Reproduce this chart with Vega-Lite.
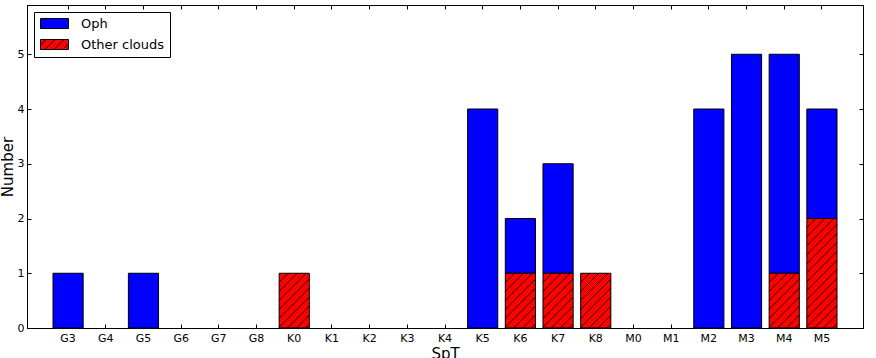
{
  "$schema": "https://vega.github.io/schema/vega-lite/v6.json",
  "width": 836,
  "height": 323,
  "autosize": {"type": "none"},
  "padding": {"left": 27, "top": 5, "right": 13, "bottom": 30},
  "background": "white",
  "config": {
    "view": {"stroke": "black", "strokeWidth": 1},
    "font": "DejaVu Sans",
    "axis": {
      "grid": false,
      "domainColor": "black",
      "domainWidth": 1,
      "tickColor": "black",
      "tickSize": -4,
      "labelColor": "black",
      "titleColor": "black",
      "labelFont": "DejaVu Sans",
      "titleFont": "DejaVu Sans",
      "labelFontSize": 11,
      "titleFontSize": 15,
      "titleFontWeight": "normal"
    }
  },
  "data": {
    "values": [
      {"SpT": "G3", "group": "Oph", "n": 1},
      {"SpT": "G5", "group": "Oph", "n": 1},
      {"SpT": "K5", "group": "Oph", "n": 4},
      {"SpT": "K6", "group": "Oph", "n": 1},
      {"SpT": "K7", "group": "Oph", "n": 2},
      {"SpT": "M2", "group": "Oph", "n": 4},
      {"SpT": "M3", "group": "Oph", "n": 5},
      {"SpT": "M4", "group": "Oph", "n": 4},
      {"SpT": "M5", "group": "Oph", "n": 2},
      {"SpT": "K0", "group": "Other clouds", "n": 1},
      {"SpT": "K6", "group": "Other clouds", "n": 1},
      {"SpT": "K7", "group": "Other clouds", "n": 1},
      {"SpT": "K8", "group": "Other clouds", "n": 1},
      {"SpT": "M4", "group": "Other clouds", "n": 1},
      {"SpT": "M5", "group": "Other clouds", "n": 2}
    ]
  },
  "layer": [
    {
      "mark": {"type": "bar", "stroke": "black", "strokeWidth": 1},
      "encoding": {
        "x": {
          "field": "SpT",
          "type": "nominal",
          "scale": {
            "domain": ["G3","G4","G5","G6","G7","G8","K0","K1","K2","K3","K4","K5","K6","K7","K8","M0","M1","M2","M3","M4","M5"],
            "paddingInner": 0.2,
            "paddingOuter": 0.69
          },
          "axis": {"orient": "bottom", "labelAngle": 0, "title": "SpT", "labelPadding": 8, "titlePadding": 3}
        },
        "y": {
          "field": "n",
          "type": "quantitative",
          "stack": true,
          "scale": {"domain": [0, 5.9], "nice": false},
          "axis": {"orient": "left", "values": [0,1,2,3,4,5], "title": "Number", "labelPadding": 7, "titlePadding": 2}
        },
        "color": {
          "field": "group",
          "type": "nominal",
          "scale": {"domain": ["Oph", "Other clouds"], "range": ["#0000ff", "#ff0000"]},
          "legend": {
            "orient": "top-left",
            "offset": 7,
            "title": null,
            "strokeColor": "black",
            "fillColor": "white",
            "padding": 5,
            "cornerRadius": 0,
            "labelFont": "DejaVu Sans",
            "labelFontSize": 13,
            "labelColor": "black",
            "symbolSize": 100,
            "symbolOffset": 9,
            "labelOffset": 20,
            "rowPadding": 6,
            "symbolStrokeColor": "black",
            "symbolStrokeWidth": 1,
            "encode": {
              "symbols": {
                "update": {
                  "shape": {"signal": "datum.value === 'Oph' ? 'M-2.8,-1H2.8V1H-2.8Z' : 'M-2.8,-1H2.8V1H-2.8ZM-2.8,0.1L-1.7,-1M-1.9,1L0.1,-1M-0.1,1L1.9,-1M1.7,1L2.8,-0.1'"},
                  "stroke": {"value": "black"},
                  "strokeWidth": {"value": 1}
                }
              }
            }
          }
        },
        "order": {"field": "group", "sort": "descending"}
      }
    },
    {
      "transform": [{"filter": "datum.group === 'Other clouds'"}],
      "mark": {"type": "point", "filled": false, "stroke": "black", "strokeWidth": 0.9, "opacity": 1, "size": 900},
      "encoding": {
        "x": {"field": "SpT", "type": "nominal", "axis": {"orient": "top", "labels": false, "title": null}},
        "y": {"field": "n", "type": "quantitative", "axis": {"orient": "right", "labels": false, "title": null, "values": [0,1,2,3,4,5]}},
        "shape": {
          "field": "n",
          "type": "nominal",
          "scale": {
            "domain": [1, 2],
            "range": [
              "M-1,0.6L-0.4,0M-1,1.2L0.2,0M-1,1.8L0.8,0M-1,2.4L1,0.4M-1,3L1,1M-1,3.6L1,1.6M-0.45,3.65L1,2.2M0.15,3.65L1,2.8M0.75,3.65L1,3.4",
              "M-1,0.6L-0.4,0M-1,1.2L0.2,0M-1,1.8L0.8,0M-1,2.4L1,0.4M-1,3L1,1M-1,3.6L1,1.6M-1,4.2L1,2.2M-1,4.8L1,2.8M-1,5.4L1,3.4M-1,6L1,4M-1,6.6L1,4.6M-1,7.2L1,5.2M-0.5,7.3L1,5.8M0.1,7.3L1,6.4M0.7,7.3L1,7"
            ]
          },
          "legend": null
        }
      }
    }
  ],
  "resolve": {"axis": {"x": "independent", "y": "independent"}}
}
